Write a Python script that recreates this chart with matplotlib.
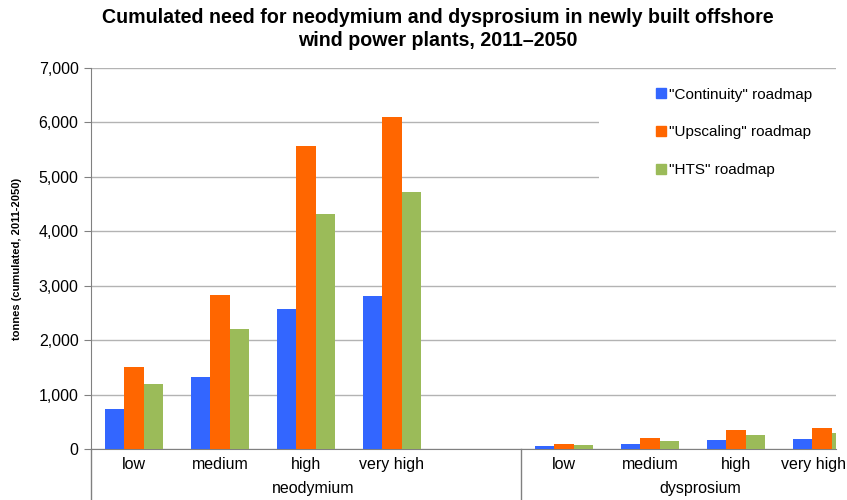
import matplotlib
matplotlib.use("Agg")
import matplotlib.pyplot as plt
from matplotlib.patches import Rectangle
from matplotlib.lines import Line2D
from matplotlib.transforms import ScaledTranslation
import numpy as np

plt.rcParams['font.family'] = ['Liberation Sans', 'DejaVu Sans']

# Data
levels = ["low", "medium", "high", "very high"]
groups = ["neodymium", "dysprosium"]
series = ['"Continuity" roadmap', '"Upscaling" roadmap', '"HTS" roadmap']
neodymium = {
    '"Continuity" roadmap': [730, 1330, 2580, 2820],
    '"Upscaling" roadmap': [1510, 2830, 5560, 6100],
    '"HTS" roadmap': [1200, 2210, 4310, 4730],
}
dysprosium = {
    '"Continuity" roadmap': [55, 92, 165, 178],
    '"Upscaling" roadmap': [98, 196, 349, 380],
    '"HTS" roadmap': [73, 147, 263, 288],
}
colors = ["#3366FF", "#FF6600", "#9BBB59"]
yticks = [0, 1000, 2000, 3000, 4000, 5000, 6000, 7000]

W, H = 847, 500
fig = plt.figure(figsize=(W / 100, H / 100), dpi=100)
ax = fig.add_axes([91 / W, 1 - 449 / H, (836 - 91) / W, (449 - 68) / H])

# slot positions: neodymium 0..3, empty slot 4, dysprosium 5..8
nd_pos = np.arange(4)
dy_pos = np.arange(4) + 5
bw = 0.222
for i, s in enumerate(series):
    off = (i - 1) * bw
    ax.bar(nd_pos + off, neodymium[s], width=bw, color=colors[i], zorder=3)
    ax.bar(dy_pos + off, dysprosium[s], width=bw, color=colors[i], zorder=3)

ax.set_xlim(-0.5, 8.163)
ax.set_ylim(0, 7000)
ax.set_yticks(yticks)
ax.set_yticklabels([f"{v:,}" for v in yticks], fontsize=11.5)
ax.yaxis.grid(True, color="#B3B3B3", linewidth=1.0, zorder=0)
ax.set_axisbelow(True)

for sp in ["top", "right"]:
    ax.spines[sp].set_visible(False)
ax.spines["left"].set_color("#808080")
ax.spines["bottom"].set_color("#808080")
ax.tick_params(axis="y", direction="out", length=5, color="#808080", pad=4)

ax.set_xticks(list(nd_pos) + list(dy_pos))
ax.set_xticklabels(levels + levels, fontsize=11.5)
ax.tick_params(axis="x", length=0, pad=6)
# keep the last category label inside the figure
last = ax.get_xticklabels()[-1]
last.set_transform(last.get_transform() + ScaledTranslation(-8 / 100, 0, fig.dpi_scale_trans))

# vertical separators below the category axis
low = -51 / 381 * 7000
for x in [-0.5, 4.5]:
    ax.plot([x, x], [0, low], color="#808080", linewidth=1.0, clip_on=False, zorder=4)

# group labels
trans = ax.get_xaxis_transform()
ax.text(2.08, -40 / 381, groups[0], transform=trans, ha="center", va="center", fontsize=11.5)
ax.text(6.58, -40 / 381, groups[1], transform=trans, ha="center", va="center", fontsize=11.5)

ax.set_ylabel("tonnes (cumulated, 2011-2050)", fontsize=8, fontweight="bold", labelpad=12)

# legend area
ax.add_patch(Rectangle((599, 500 - 226), 240, 154, transform=None, facecolor="white",
                       edgecolor="none", zorder=1))
handles = [Line2D([], [], marker="s", linestyle="none", markersize=7, color=c) for c in colors]
ax.legend(handles, series, loc="upper left", bbox_to_anchor=(646 / W, 1 - 80 / H),
          bbox_transform=fig.transFigure, frameon=False, fontsize=11,
          labelspacing=1.55, handletextpad=0.0, handlelength=1.0, borderpad=0)

fig.text(438 / W, 1 - 8 / H,
         "Cumulated need for neodymium and dysprosium in newly built offshore\nwind power plants, 2011\u20132050",
         fontsize=14.1, fontweight="bold", ha="center", va="top", linespacing=1.25)

fig.savefig("out.png", dpi=100)
